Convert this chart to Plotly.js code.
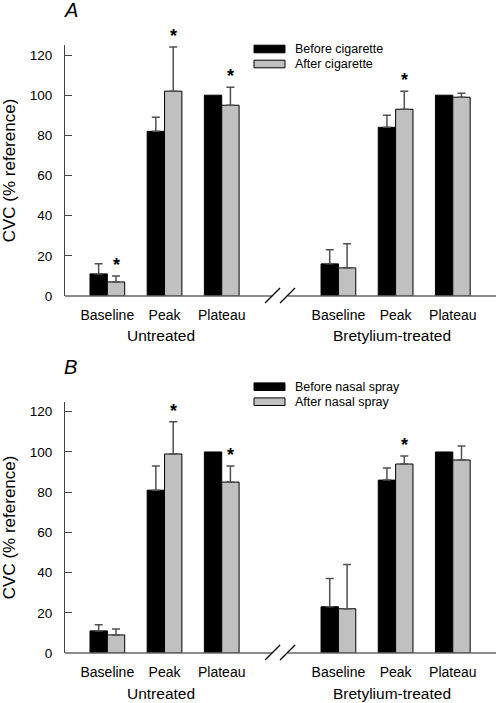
<!DOCTYPE html>
<html>
<head>
<meta charset="utf-8">
<script src="https://cdn.plot.ly/plotly-3.0.1.min.js"></script>
<style>html,body{margin:0;padding:0;background:#fff;}#chart{width:496px;height:703px;}</style>
</head>
<body>
<div id="chart"></div>
<script>
// ---------- data ----------
const categories = ["Baseline", "Peak", "Plateau"];
const groups = ["Untreated", "Bretylium-treated"];

// Panel A (cigarette)
const cigLabels = ["Before cigarette", "After cigarette"];
const cigBefore    = [11, 82, 100, 16, 84, 100];
const cigBeforeErr = [5, 7, 0, 7, 6, 0];
const cigAfter     = [7, 102, 95, 14, 93, 99];
const cigAfterErr  = [3, 22, 9, 12, 9, 2];
const cigSig       = [true, true, true, false, true, false];

// Panel B (nasal spray)
const sprayLabels = ["Before nasal spray", "After nasal spray"];
const sprayBefore    = [11, 81, 100, 23, 86, 100];
const sprayBeforeErr = [3, 12, 0, 14, 6, 0];
const sprayAfter     = [9, 99, 85, 22, 94, 96];
const sprayAfterErr  = [3, 16, 8, 22, 4, 7];
const spraySig       = [false, true, true, false, true, false];

const yTicks = [0, 20, 40, 60, 80, 100, 120];
const panelLetters = ["A", "B"];

// ---------- layout helpers ----------
const W = 496, H = 703;
const M = {l: 65, r: 0, t: 45, b: 50};
const PW = W - M.l - M.r, PH = H - M.t - M.b;
const px2x = p => (p - M.l) / PW;
const px2y = p => (H - M.b - p) / PH;

const groupGap = 4.04;
const xRange = [-0.74, 6.795];
const bargap = 0.393;
const pos = [];
groups.forEach((g, gi) => categories.forEach((c, ci) => pos.push(ci + gi * groupGap)));
const tickText = [];
groups.forEach(() => categories.forEach(c => tickText.push(c)));
const d2px = x => (x - xRange[0]) / (xRange[1] - xRange[0]);

const FONT = "Liberation Sans, Arial, Helvetica, sans-serif";
const BLACK = "#000000", GREY = "#c0c0c0", ERR = "#505050";

const domA = [px2y(296), 1];
const domB = [0, px2y(401.7)];
const axisPx = [296, 653];

function barTrace(name, y, err, color, xa, ya) {
  // zero-size errors are not drawn (NaN), others are one-sided upwards
  const up = err.map(e => e > 0 ? e : NaN);
  const down = err.map(e => e > 0 ? 0 : NaN);
  return {
    type: "bar", name: name, x: pos, y: y, xaxis: xa, yaxis: ya,
    marker: {color: color, line: {color: "#000", width: 1}},
    error_y: {type: "data", array: up, arrayminus: down, symmetric: false,
              color: ERR, thickness: 1.5, width: 4},
    showlegend: false, hoverinfo: "skip"
  };
}

const data = [
  barTrace(cigLabels[0], cigBefore, cigBeforeErr, BLACK, "x", "y"),
  barTrace(cigLabels[1], cigAfter, cigAfterErr, GREY, "x", "y"),
  barTrace(sprayLabels[0], sprayBefore, sprayBeforeErr, BLACK, "x2", "y2"),
  barTrace(sprayLabels[1], sprayAfter, sprayAfterErr, GREY, "x2", "y2")
];

function xAxis(anchor) {
  return {
    anchor: anchor, domain: [0, 1], range: xRange, showgrid: false, zeroline: false,
    showline: false, ticks: "", tickmode: "array", tickvals: pos, ticktext: tickText,
    tickfont: {family: FONT, size: 14, color: "#000"}, ticklabelstandoff: 9, fixedrange: true
  };
}
function yAxis(anchor, dom) {
  return {
    anchor: anchor, domain: dom, range: [0, 125], showgrid: false, zeroline: false,
    showline: true, linecolor: "#444", linewidth: 1, ticks: "inside", ticklen: 7,
    tickwidth: 1, tickcolor: "#444", tickmode: "array", tickvals: yTicks,
    tickfont: {family: FONT, size: 13.5, color: "#000"}, ticklabelstandoff: 9,
    title: {text: "CVC (% reference)", font: {family: FONT, size: 17, color: "#000"}, standoff: 10},
    fixedrange: true
  };
}

const shapes = [], annotations = [];
const afterOffset = (1 - bargap) / 4;

function addPanel(pi, xref, yref, after, afterErr, sig, labels) {
  const ay = axisPx[pi];
  const bc = (2 + groupGap) / 2;
  const du = 15 / (PW / (xRange[1] - xRange[0]));
  const gapU = 8 / (PW / (xRange[1] - xRange[0]));
  // x axis line with break
  shapes.push({type: "line", xref: "paper", yref: "paper", x0: 0, x1: d2px(bc - gapU),
               y0: px2y(ay), y1: px2y(ay), line: {color: "#666", width: 1.5}});
  shapes.push({type: "line", xref: "paper", yref: "paper", x0: d2px(bc + gapU), x1: 1,
               y0: px2y(ay), y1: px2y(ay), line: {color: "#666", width: 1.5}});
  [[bc - du, bc], [bc, bc + du]].forEach(s => shapes.push({
    type: "line", xref: "paper", yref: "paper", x0: d2px(s[0]), x1: d2px(s[1]),
    y0: px2y(ay + 7), y1: px2y(ay - 8), line: {color: "#000", width: 1.3}}));
  // significance stars
  sig.forEach((s, i) => {
    if (!s) return;
    annotations.push({xref: xref, yref: yref, x: pos[i] + afterOffset, y: after[i] + afterErr[i],
      text: "<b>*</b>", showarrow: false, yanchor: "bottom", xanchor: "center", yshift: -1,
      font: {family: FONT, size: 18, color: "#000"}});
  });
  // group labels
  groups.forEach((g, gi) => annotations.push({
    xref: xref, yref: "paper", x: pos[gi * 3 + 1], y: px2y(ay + 40), xshift: -4,
    text: g, showarrow: false, xanchor: "center", yanchor: "middle",
    font: {family: FONT, size: 15.5, color: "#000"}}));
  // panel letter
  const letterY = pi === 0 ? 10 : 367;
  annotations.push({xref: "paper", yref: "paper", x: px2x(62), y: px2y(letterY), text: "<i>" + panelLetters[pi] + "</i>",
    showarrow: false, xanchor: "left", yanchor: "middle", font: {family: FONT, size: 20, color: "#000"}});
  // legend
  const rows = pi === 0 ? [49, 64] : [386.7, 401.7];
  const fills = [BLACK, GREY];
  rows.forEach((cy, ri) => {
    shapes.push({type: "rect", xref: "paper", yref: "paper", x0: px2x(254), x1: px2x(285),
      y0: px2y(cy + 3.8), y1: px2y(cy - 3.8), fillcolor: fills[ri], line: {color: "#000", width: 1}});
    annotations.push({xref: "paper", yref: "paper", x: px2x(293), y: px2y(cy), text: labels[ri],
      showarrow: false, xanchor: "left", yanchor: "middle", font: {family: FONT, size: 12.5, color: "#000"}});
  });
}

addPanel(0, "x", "y", cigAfter, cigAfterErr, cigSig, cigLabels);
addPanel(1, "x2", "y2", sprayAfter, sprayAfterErr, spraySig, sprayLabels);

const layout = {
  width: W, height: H, margin: M, paper_bgcolor: "#fff", plot_bgcolor: "rgba(0,0,0,0)",
  barmode: "group", bargap: bargap, bargroupgap: 0, showlegend: false,
  font: {family: FONT, color: "#000"},
  xaxis: xAxis("y"), yaxis: yAxis("x", domA),
  xaxis2: xAxis("y2"), yaxis2: yAxis("x2", domB),
  shapes: shapes, annotations: annotations
};

Plotly.newPlot("chart", data, layout, {displayModeBar: false, staticPlot: true});
</script>
</body>
</html>
